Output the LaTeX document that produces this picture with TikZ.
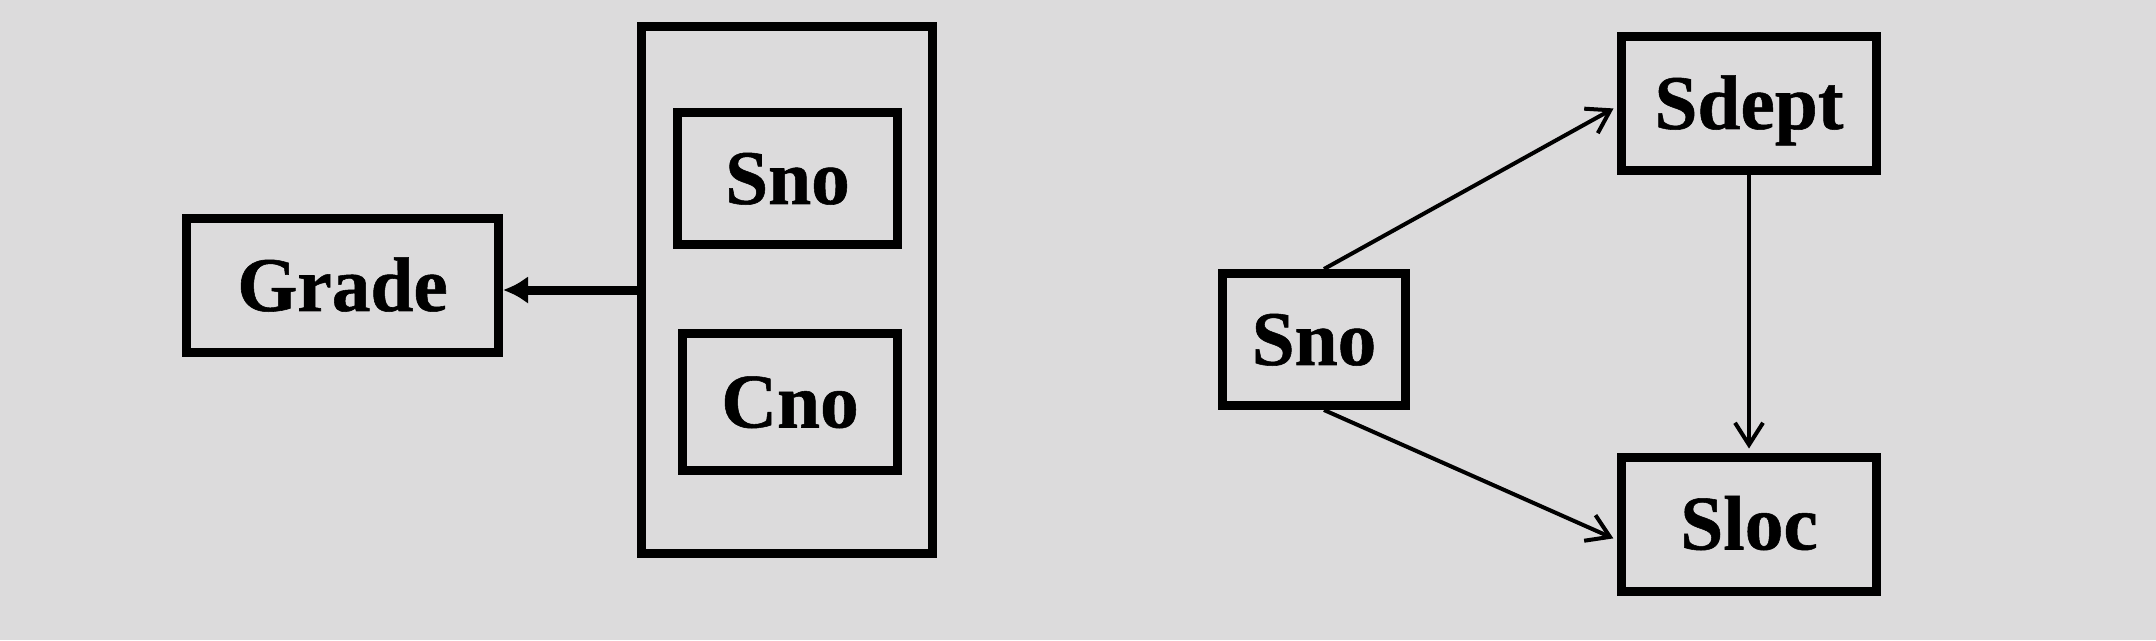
\documentclass[tikz,border=0pt]{standalone}
\usepackage{fontspec}
\setmainfont{Liberation Serif}[BoldFeatures={FakeBold=0.7}]
\usetikzlibrary{arrows.meta}
\definecolor{bggray}{RGB}{220,219,220}
\tikzset{
  attr/.style={draw, line width=0.09cm, inner sep=0pt,
    text height=14.5pt, text depth=0pt,
    font=\fontsize{22}{24}\selectfont\bfseries},
  fd/.style={line width=0.04cm, shorten >=0.4mm,
    -{Straight Barb[length=2.2mm,width=2.8mm]}},
}

\begin{document}
\begin{tikzpicture}
\fill[bggray] (0,0) rectangle (21.56,6.40) ;
\useasboundingbox (0,0) rectangle (21.56,6.40) ;
\node[attr, minimum width=3.12cm, minimum height=1.34cm] (grade) at (3.425,3.545) {Grade} ;
\node[draw, line width=0.09cm, minimum width=2.91cm, minimum height=5.27cm] (key) at (7.87,3.50) {} ;
\node[attr, minimum width=2.20cm, minimum height=1.32cm] (sno) at (7.875,4.615) {Sno} ;
\node[attr, minimum width=2.15cm, minimum height=1.37cm] (cno) at (7.90,2.38) {Cno} ;
\draw[line width=0.09cm, -{Latex[length=2.5mm,width=2.8mm]}] (key.west) -- (key.west -| grade.east) ;
\node[attr, minimum width=1.83cm, minimum height=1.32cm] (snoR) at (13.14,3.005) {Sno} ;
\node[attr, minimum width=2.55cm, minimum height=1.34cm] (sdept) at (17.49,5.365) {Sdept} ;
\node[attr, minimum width=2.55cm, minimum height=1.34cm] (sloc) at (17.49,1.16) {Sloc} ;
\draw[fd] ([xshift=1mm]snoR.north) -- ([yshift=-0.3mm]sdept.west) ;
\draw[fd] ([xshift=1mm]snoR.south) -- ([yshift=-1.6mm]sloc.west) ;
\draw[fd] (sdept) -- (sloc) ;
\end{tikzpicture}
\end{document}
